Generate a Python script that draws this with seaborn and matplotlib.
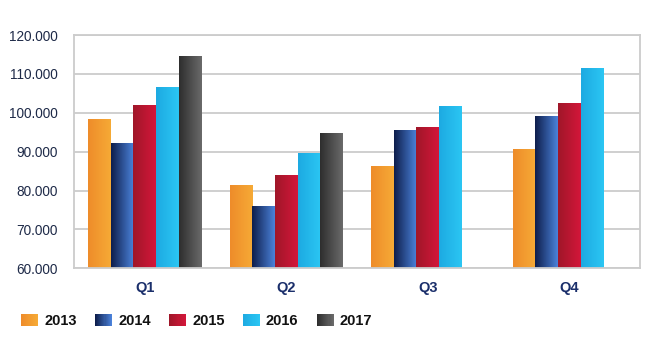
import numpy as np
import pandas as pd
import matplotlib
matplotlib.use("Agg")
import matplotlib.pyplot as plt
import seaborn as sns
from matplotlib.colors import LinearSegmentedColormap
from matplotlib.patches import Patch, Rectangle
from matplotlib.legend_handler import HandlerBase
from matplotlib.ticker import FuncFormatter

quarters = ["Q1", "Q2", "Q3", "Q4"]
years = ["2013", "2014", "2015", "2016", "2017"]
v2013 = [98200, 81200, 86200, 90500]
v2014 = [92100, 75700, 95300, 99000]
v2015 = [101900, 83700, 96200, 102400]
v2016 = [106500, 89400, 101600, 111200]
v2017 = [114400, 94500, np.nan, np.nan]

grad = {
    "2013": ("#EE8C2A", "#F6AA36"),
    "2014": ("#0E1E4C", "#4B82DA"),
    "2015": ("#A01629", "#D3173A"),
    "2016": ("#1DAAE2", "#2BC6F3"),
    "2017": ("#2E2E2E", "#6A6A6A"),
}
mid = {"2013": "#F29B30", "2014": "#2A4F96", "2015": "#BD1732",
       "2016": "#24B8EB", "2017": "#4A4A4A"}

series = [v2013, v2014, v2015, v2016, v2017]
rows = []
for y, vals in zip(years, series):
    for q, v in zip(quarters, vals):
        rows.append({"quarter": q, "year": y, "value": v})
df = pd.DataFrame(rows)

sns.set_theme(style="white")
plt.rcParams["font.family"] = ["Liberation Sans", "DejaVu Sans"]

fig = plt.figure(figsize=(6.5, 3.5), dpi=100)
ax = fig.add_axes([0.1138, 0.2334, 0.8708, 0.6666])

sns.barplot(data=df, x="quarter", y="value", hue="year", order=quarters,
            hue_order=years, palette=mid, width=0.8, gap=0, ax=ax,
            legend=False, saturation=1, linewidth=0)

YMIN, YMAX = 60000, 120000
ax.set_xlim(-0.5, 3.5)
ax.set_ylim(YMIN, YMAX)

cmaps = {y: LinearSegmentedColormap.from_list("g" + y, list(grad[y])) for y in years}

# gradient fill for each bar, placed on the bar drawn by seaborn
for container, y in zip(ax.containers, years):
    for patch in container.patches:
        h = patch.get_height()
        if not np.isfinite(h) or h == 0:
            continue
        x0 = patch.get_x()
        w = patch.get_width()
        top = patch.get_y() + h
        ax.imshow(np.linspace(0, 1, 64).reshape(1, -1), cmap=cmaps[y],
                  aspect="auto", extent=(x0, x0 + w, YMIN, top),
                  zorder=patch.get_zorder(), interpolation="bilinear")
        patch.set_facecolor("none")

ax.set_xlim(-0.5, 3.5)
ax.set_ylim(YMIN, YMAX)
ax.set_yticks(np.arange(YMIN, YMAX + 1, 10000))
ax.yaxis.set_major_formatter(FuncFormatter(lambda v, p: f"{int(v):,}".replace(",", ".")))
ax.grid(axis="y", color="#CCCCCC", linewidth=1.3)
ax.set_axisbelow(True)
for s in ax.spines.values():
    s.set_color("#CCCCCC")
    s.set_linewidth(1.3)
ax.set_xlabel("")
ax.set_ylabel("")
ax.tick_params(axis="y", length=0, pad=11.5, labelsize=9.8, labelcolor="#1E2A48")
ax.tick_params(axis="x", length=0, pad=9, labelsize=10.5, labelcolor="#1B2F6B")
for t in ax.get_xticklabels():
    t.set_fontweight("bold")


class GradientHandler(HandlerBase):
    def create_artists(self, legend, orig_handle, xdescent, ydescent,
                       width, height, fontsize, trans):
        cmap = cmaps[orig_handle.get_label()]
        n = 16
        arts = []
        for i in range(n):
            r = Rectangle((-xdescent + width * i / n, -ydescent), width / n + 0.3,
                          height, facecolor=cmap(i / (n - 1)), edgecolor="none",
                          transform=trans)
            arts.append(r)
        return arts


handles = [Patch(facecolor=mid[y], edgecolor="none", label=y) for y in years]
leg = fig.legend(handles=handles, loc="center left", bbox_to_anchor=(0.012, 0.083),
                 ncol=5, frameon=False, handlelength=1.17, handleheight=0.9,
                 handletextpad=0.42, columnspacing=1.25,
                 handler_map={Patch: GradientHandler()},
                 prop={"weight": "bold", "size": 10.5})
for t in leg.get_texts():
    t.set_color("#111111")

fig.savefig("out.png", dpi=100, facecolor="white")
